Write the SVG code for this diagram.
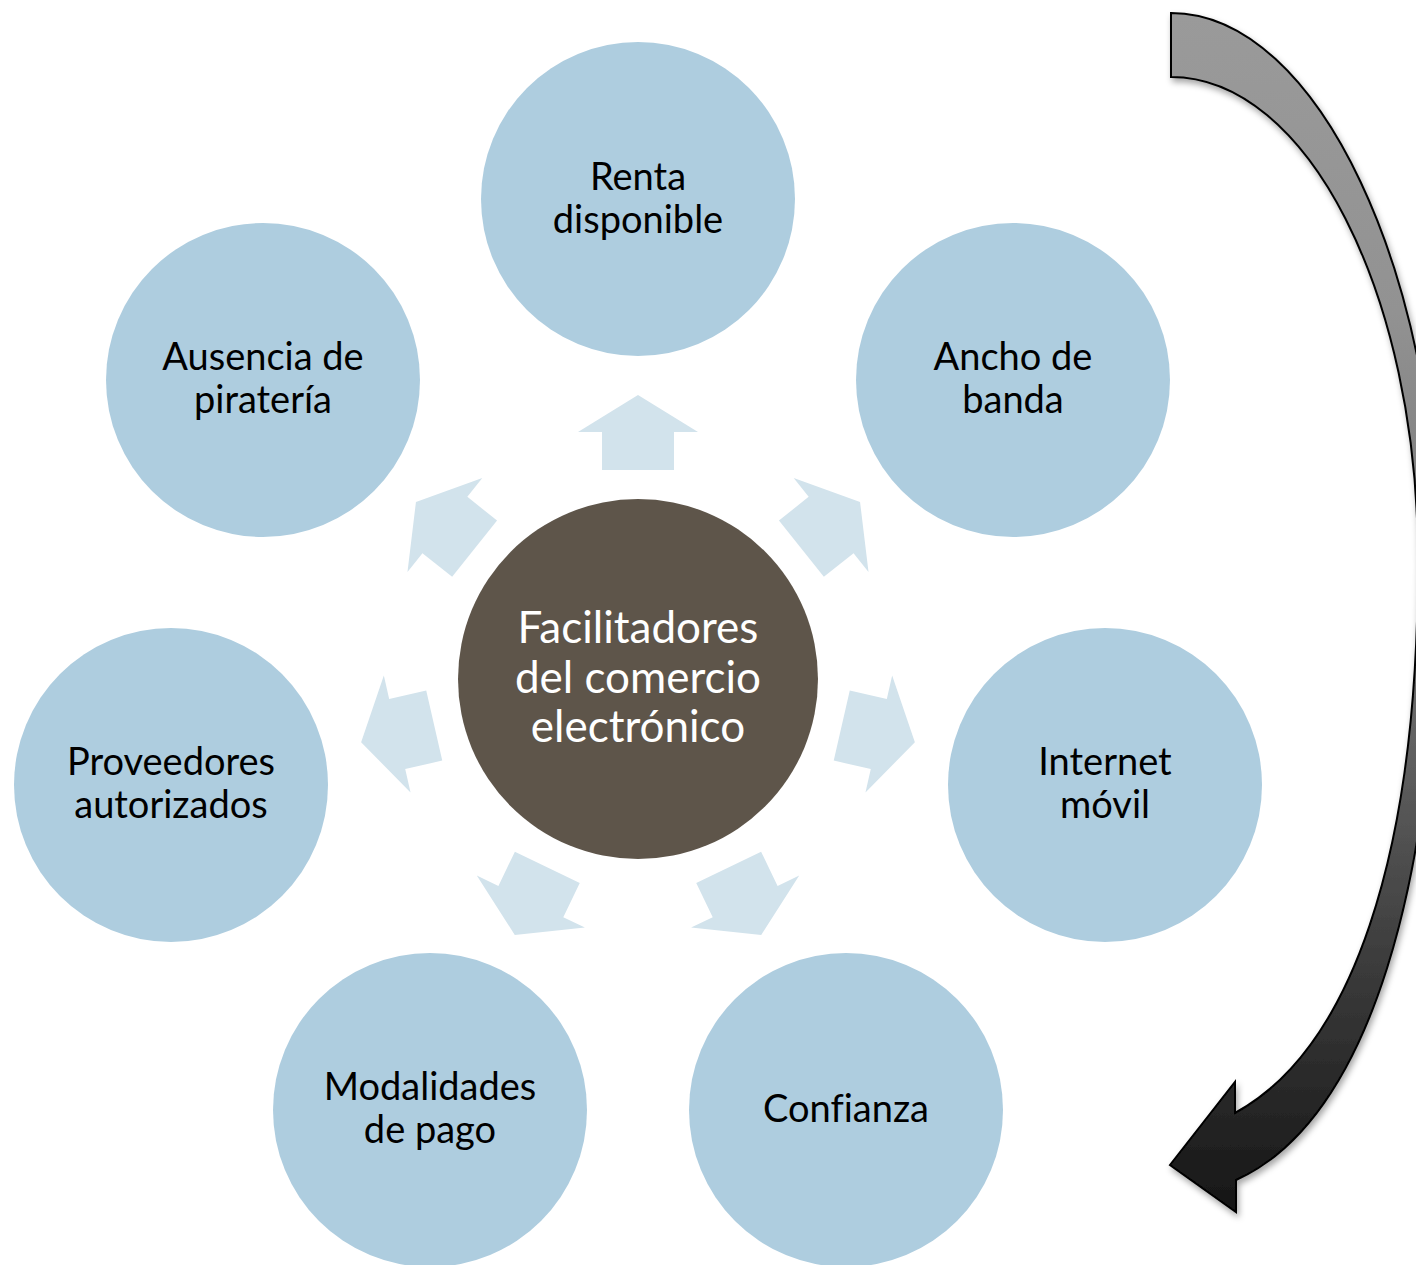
<svg xmlns="http://www.w3.org/2000/svg" width="1416" height="1265" viewBox="0 0 1416 1265">
<style>
.outer{fill:#AECDDF;}
.center{fill:#5E554A;}
.lbl{font-family:"Lato","Open Sans","Liberation Sans",sans-serif;font-size:38px;fill:#000;text-anchor:middle;font-variant-ligatures:none;}
.clbl{font-family:"Lato","Open Sans","Liberation Sans",sans-serif;font-size:44px;fill:#fff;text-anchor:middle;font-variant-ligatures:none;}
.arr{fill:#D2E3EC;}
</style>
<defs>
<path id="a" d="M638,395 L698,432 L674,432 L674,470 L602,470 L602,432 L578,432 Z"/>
<linearGradient id="g" gradientUnits="userSpaceOnUse" x1="0" y1="13" x2="0" y2="1212">
<stop offset="0" stop-color="#9a9a9a"/>
<stop offset="0.25" stop-color="#929292"/>
<stop offset="0.55" stop-color="#6e6e6e"/>
<stop offset="0.8" stop-color="#3a3a3a"/>
<stop offset="1" stop-color="#161616"/>
</linearGradient>
<filter id="sh" x="-20%" y="-10%" width="140%" height="120%">
<feDropShadow dx="2" dy="4" stdDeviation="3" flood-color="#000" flood-opacity="0.35"/>
</filter>
</defs>
<rect width="1416" height="1265" fill="#fff"/>
<g id="connectors">
<use href="#a" class="arr"/>
<use href="#a" class="arr" transform="rotate(51.43 638 679)"/>
<use href="#a" class="arr" transform="rotate(102.86 638 679)"/>
<use href="#a" class="arr" transform="rotate(154.29 638 679)"/>
<use href="#a" class="arr" transform="rotate(205.71 638 679)"/>
<use href="#a" class="arr" transform="rotate(257.14 638 679)"/>
<use href="#a" class="arr" transform="rotate(308.57 638 679)"/>
</g>
<g id="cycle-arrow">
<path d="M1171,13 L1171,77 C1307,77 1418,294 1418,560 C1418,860 1350,1050 1235,1113 L1235,1082 L1170,1165 L1236,1212 L1236,1180 C1370,1120 1438,880 1438,560 C1438,280 1320,13 1171,13 Z" fill="url(#g)" stroke="#000" stroke-width="2" stroke-linejoin="miter" filter="url(#sh)"/>
</g>
<g id="node-center">
<circle cx="638" cy="679" r="180" class="center"/>
<text class="clbl" x="638" y="643">Facilitadores</text>
<text class="clbl" x="638" y="693">del comercio</text>
<text class="clbl" x="638" y="742">electrónico</text>
</g>
<g id="node-renta">
<circle cx="638" cy="199" r="157" class="outer"/>
<text class="lbl" x="638" y="190">Renta</text>
<text class="lbl" x="638" y="233">disponible</text>
</g>
<g id="node-ancho">
<circle cx="1013" cy="380" r="157" class="outer"/>
<text class="lbl" x="1013" y="370">Ancho de</text>
<text class="lbl" x="1013" y="413">banda</text>
</g>
<g id="node-internet">
<circle cx="1105" cy="785" r="157" class="outer"/>
<text class="lbl" x="1105" y="775">Internet</text>
<text class="lbl" x="1105" y="818">móvil</text>
</g>
<g id="node-confianza">
<circle cx="846" cy="1110" r="157" class="outer"/>
<text class="lbl" x="846" y="1122">Confianza</text>
</g>
<g id="node-modalidades">
<circle cx="430" cy="1110" r="157" class="outer"/>
<text class="lbl" x="430" y="1100">Modalidades</text>
<text class="lbl" x="430" y="1143">de pago</text>
</g>
<g id="node-proveedores">
<circle cx="171" cy="785" r="157" class="outer"/>
<text class="lbl" x="171" y="775">Proveedores</text>
<text class="lbl" x="171" y="818">autorizados</text>
</g>
<g id="node-ausencia">
<circle cx="263" cy="380" r="157" class="outer"/>
<text class="lbl" x="263" y="370">Ausencia de</text>
<text class="lbl" x="263" y="413">piratería</text>
</g>
</svg>
